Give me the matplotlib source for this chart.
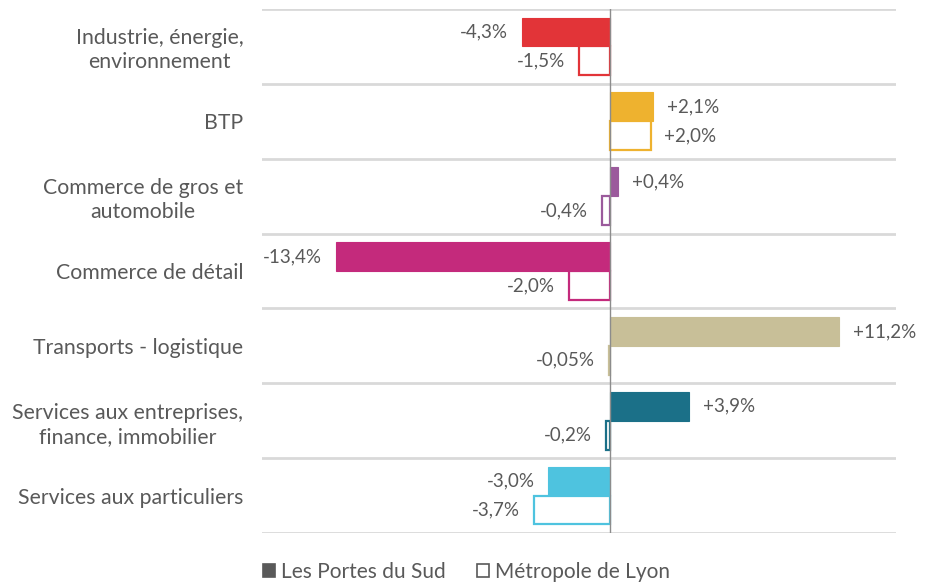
import matplotlib
matplotlib.use("Agg")
import matplotlib.pyplot as plt
from matplotlib.patches import Patch
import numpy as np

plt.rcParams['font.family'] = ['Lato', 'DejaVu Sans']

categories = [
    "Industrie, énergie,\nenvironnement",
    "BTP",
    "Commerce de gros et\nautomobile",
    "Commerce de détail",
    "Transports - logistique",
    "Services aux entreprises,\nfinance, immobilier",
    "Services aux particuliers",
]
portes_du_sud = [-4.3, 2.1, 0.4, -13.4, 11.2, 3.9, -3.0]
metropole = [-1.5, 2.0, -0.4, -2.0, -0.05, -0.2, -3.7]
portes_labels = ["-4,3%", "+2,1%", "+0,4%", "-13,4%", "+11,2%", "+3,9%", "-3,0%"]
metropole_labels = ["-1,5%", "+2,0%", "-0,4%", "-2,0%", "-0,05%", "-0,2%", "-3,7%"]
colors = ["#E23438", "#EEB22F", "#9B5A9C", "#C42A7C", "#C8BF98", "#1B7088", "#4EC3DF"]
series_names = ["Les Portes du Sud", "Métropole de Lyon"]

text_color = "#595959"

fig = plt.figure(figsize=(9.26, 5.82), dpi=100)
ax = fig.add_axes([0.283, 0.0842, 0.6846, 0.9003])

y = np.arange(len(categories))
h = 0.385

bars_a = ax.barh(y - h / 2, portes_du_sud, height=h, color=colors,
                 edgecolor=colors, linewidth=0.8, zorder=3)
bars_b = ax.barh(y + h / 2, metropole, height=h, color="white",
                 edgecolor=colors, linewidth=1.6, zorder=3)

ax.bar_label(bars_a, labels=portes_labels, padding=10, fontsize=13.5, color=text_color)
ax.bar_label(bars_b, labels=metropole_labels, padding=10, fontsize=13.5, color=text_color)

ax.set_xlim(-17, 14)
ax.set_ylim(len(categories) - 0.5, -0.5)
ax.axvline(0, color="#8c8c8c", linewidth=1.0, zorder=4)
for b in np.arange(-0.5, len(categories), 1.0):
    ax.axhline(b, color="#d9d9d9", linewidth=2.0, zorder=1)

ax.set_yticks(y)
ax.set_yticklabels(categories, fontsize=15.3, color=text_color,
                   multialignment="center", linespacing=1.25)
ax.tick_params(axis="y", length=0, pad=13.5)
ax.set_xticks([])
for s in ax.spines.values():
    s.set_visible(False)

handles = [
    Patch(facecolor="#595959", edgecolor="#595959", linewidth=1.2),
    Patch(facecolor="white", edgecolor="#595959", linewidth=1.2),
]
fig.legend(handles, series_names, loc="lower center", bbox_to_anchor=(0.504, -0.032),
           ncol=2, frameon=False, fontsize=15, labelcolor=text_color,
           handlelength=0.55, handleheight=0.55, handletextpad=0.3, columnspacing=1.5)

fig.savefig("out.png", dpi=100)
